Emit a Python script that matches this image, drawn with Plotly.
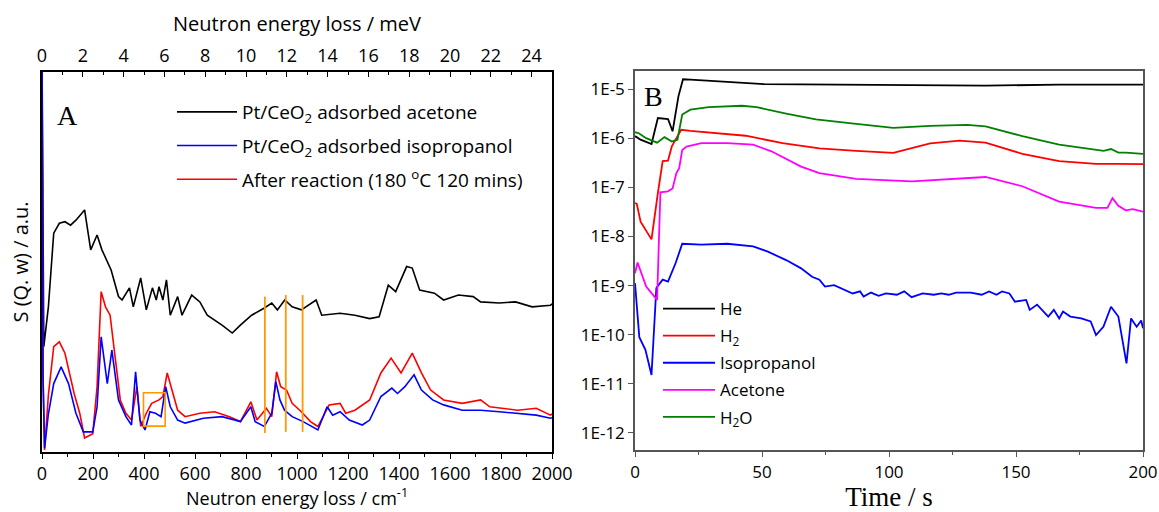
import plotly.graph_objects as go

W, H = 1159, 512

# ---------------- Panel A data (INS spectra, arbitrary units) ----------------
acetone_x = [0, 7, 25, 46, 68, 90, 112, 133, 167, 191, 216, 235, 271, 300, 314, 343, 358, 387, 409, 433,
             448, 459, 474, 488, 503, 532, 549, 587, 619, 648, 706, 746, 778, 822, 872, 901, 923, 952, 981,
             1017, 1075, 1097, 1169, 1227, 1285, 1322, 1358, 1387, 1430, 1452, 1481, 1539, 1575, 1633, 1691,
             1720, 1793, 1857, 1922, 1994, 2000]
acetone_y = [105, 27.7, 38.2, 57.6, 60.2, 60.6, 59.7, 61, 63.7, 53.2, 57.1, 53.2, 47.9, 40.9, 40, 43.2, 38.2,
             45.8, 37.4, 43.2, 40, 43.5, 40, 45.3, 36, 40.9, 36, 41.3, 39.5, 36, 33.4, 31.3, 33.4, 36, 37.9,
             39.2, 37.4, 40, 38.2, 37.4, 40, 36, 36.5, 36, 35.1, 35.6, 43.9, 42.2, 48.8, 48.4, 42.6, 41.8, 40,
             41.3, 40.9, 39.5, 39.2, 39.5, 38.2, 38.6, 39]

isoprop_x = [0, 4, 10, 25, 46, 75, 104, 133, 162, 199, 216, 232, 256, 274, 300, 329, 351, 367, 384, 404, 423,
             445, 467, 485, 503, 532, 561, 633, 706, 778, 819, 836, 872, 901, 917, 933, 951, 981, 1024, 1082,
             1118, 1140, 1169, 1205, 1256, 1285, 1329, 1372, 1394, 1423, 1459, 1488, 1532, 1575, 1648, 1720,
             1793, 1865, 1938, 1994, 2000]
isoprop_y = [110, 20, 1, 10, 18, 22.4, 18, 10.2, 5.3, 5.3, 11.9, 30.3, 18, 26.8, 13.7, 9.3, 7.1, 21.1, 8.4,
             5.8, 10.6, 10.2, 9.3, 17.2, 11.9, 8.4, 7.6, 8.9, 9.3, 8, 11.9, 8, 6.7, 10.2, 18.5, 13.7, 11, 9.3,
             8, 5.8, 11.9, 9.7, 10.6, 8.4, 7.1, 8.4, 14.6, 16.8, 15.4, 17.2, 20.3, 16.3, 13.7, 12.4, 11, 11,
             10.6, 10.2, 9.7, 8.9, 9]

after_x = [0, 4, 10, 25, 46, 68, 90, 126, 148, 167, 199, 216, 232, 249, 267, 285, 307, 329, 351, 372, 387,
           409, 430, 459, 474, 491, 510, 532, 561, 619, 677, 735, 778, 819, 843, 880, 901, 920, 936, 959, 981,
           1017, 1053, 1082, 1126, 1169, 1191, 1227, 1285, 1329, 1369, 1408, 1452, 1488, 1524, 1575, 1648,
           1720, 1756, 1865, 1938, 1994, 2000]
after_y = [105, 20, 0.5, 15, 27.7, 29, 26, 15.4, 10.2, 3.7, 4.8, 17.2, 42.2, 38.2, 36, 26, 13.7, 10.2, 8.4,
           17.2, 6.7, 10.2, 12.8, 13.7, 14.6, 20.8, 16.3, 11, 9.3, 10.2, 10.6, 9.3, 8, 13.2, 8.4, 11.5, 9.3,
           21.1, 17.2, 16.3, 12.8, 10.6, 8, 6.7, 12.4, 12.8, 10.2, 11, 13.7, 20.8, 24.7, 20.8, 26, 20.8, 16.3,
           13.7, 12.8, 13.7, 11.9, 11, 11.5, 9.7, 10]

# orange markers (cm-1, a.u.)
marker_lines_x = [874, 956, 1022]
marker_lines_y0 = [5.0, 5.3, 5.3]
marker_lines_y1 = [40.9, 41.3, 41.3]
marker_box = [398, 483, 6.8, 15.6]  # x0, x1, y0, y1

# ---------------- Panel B data (mass spec, log scale) ----------------
he_t = [0, 2.2, 6.5, 9, 13, 14.8, 17.1, 18.9, 21.8, 36.3, 50.8, 79.9, 109, 123.5, 138, 167, 200]
he_v = [1.10e-6, 9.3e-7, 7.6e-7, 2.57e-6, 2.45e-6, 1.38e-6, 7.1e-6, 1.58e-5, 1.55e-5, 1.38e-5, 1.26e-5,
        1.23e-5, 1.20e-5, 1.17e-5, 1.17e-5, 1.23e-5, 1.23e-5]

h2_t = [0, 0.7, 2.2, 6.5, 9, 10.9, 13, 14.5, 16.3, 18.2, 21.8, 29, 43.6, 58.1, 72.6, 87.1, 101.7, 116.2,
        127.8, 138, 152.5, 167, 181.5, 188.8, 200]
h2_v = [4.8e-8, 4.6e-8, 2.0e-8, 8.7e-9, 7.6e-8, 3.4e-7, 3.5e-7, 6.8e-7, 1.0e-6, 1.48e-6, 1.41e-6, 1.32e-6,
        1.12e-6, 7.9e-7, 6.2e-7, 5.5e-7, 5.0e-7, 7.8e-7, 8.9e-7, 8.1e-7, 4.8e-7, 3.4e-7, 3.0e-7, 3.0e-7,
        2.95e-7]

iso_t = [0, 1.7, 4.1, 6.5, 8.4, 10.9, 13, 16, 18.6, 26.1, 36.3, 46.5, 52.3, 59.5, 65.4, 69.7, 72.6, 74.8,
         78.4, 82.8, 85.7, 88.6, 90, 92.9, 95.9, 98.8, 103.1, 106, 108.9, 113.3, 117.6, 120.6, 123.5, 126.4,
         132.2, 136.5, 139.4, 142.3, 144.5, 147.4, 149.6, 154, 155.4, 158.3, 162.7, 164.9, 167, 168.5,
         171.4, 175.7, 179.4, 181.5, 184.4, 187.4, 190.3, 193.5, 195.3, 197.5, 199.3, 200]
iso_v = [1.12e-9, 8.9e-11, 4.9e-11, 1.51e-11, 8.9e-10, 1.32e-9, 1.20e-9, 2.88e-9, 7.1e-9, 6.8e-9, 7.1e-9,
         6.3e-9, 4.9e-9, 3.3e-9, 2.24e-9, 1.51e-9, 1.32e-9, 9.5e-10, 1.02e-9, 8.1e-10, 6.9e-10, 7.6e-10,
         6.0e-10, 7.2e-10, 6.2e-10, 6.9e-10, 6.5e-10, 7.6e-10, 5.8e-10, 6.9e-10, 6.5e-10, 6.9e-10, 6.5e-10,
         7.2e-10, 7.2e-10, 6.5e-10, 7.6e-10, 6.5e-10, 7.6e-10, 6.9e-10, 4.7e-10, 5.1e-10, 3.2e-10, 4.1e-10,
         2.34e-10, 3.2e-10, 2.14e-10, 2.95e-10, 2.34e-10, 2.14e-10, 1.86e-10, 9.8e-11, 1.45e-10, 3.7e-10,
         2.34e-10, 2.6e-11, 2.14e-10, 1.45e-10, 1.95e-10, 1.35e-10]

acet_t = [0, 1, 4.4, 8.7, 10, 13, 14.8, 16.3, 17.4, 18.6, 20.3, 26.1, 36.3, 46.5, 53.7, 65.4, 72.6, 87.1,
          109, 123.5, 138, 152.5, 167, 181.5, 186, 188, 190.3, 193.2, 196, 200]
acet_v = [1.78e-9, 2.95e-9, 9.5e-10, 5.1e-10, 7.9e-8, 8.3e-8, 9.5e-8, 1.95e-7, 2.45e-7, 5.75e-7, 6.76e-7,
          7.9e-7, 7.9e-7, 7.4e-7, 5.4e-7, 2.63e-7, 1.95e-7, 1.48e-7, 1.32e-7, 1.48e-7, 1.62e-7, 1.05e-7,
          5.1e-8, 3.8e-8, 3.8e-8, 6.0e-8, 4.2e-8, 3.4e-8, 3.6e-8, 3.2e-8]

h2o_t = [0, 1.5, 4.4, 8.7, 11.6, 14.5, 16.7, 18.6, 21.8, 29, 42.1, 47.9, 59.5, 71.2, 87.1, 101.7, 116.2,
         130.7, 138, 152.5, 167, 184.5, 187.4, 190.3, 193.2, 200]
h2o_v = [1.32e-6, 1.26e-6, 1.00e-6, 8.1e-7, 1.05e-6, 8.5e-7, 9.3e-7, 3.02e-6, 3.80e-6, 4.27e-6, 4.57e-6,
         4.27e-6, 3.16e-6, 2.40e-6, 1.95e-6, 1.62e-6, 1.78e-6, 1.86e-6, 1.74e-6, 1.10e-6, 7.4e-7, 5.5e-7,
         6.0e-7, 5.1e-7, 5.1e-7, 4.8e-7]

b_tickvals = [1e-5, 1e-6, 1e-7, 1e-8, 1e-9, 1e-10, 1e-11, 1e-12]
b_ticktext = ["1E-5", "1E-6", "1E-7", "1E-8", "1E-9", "1E-10", "1E-11", "1E-12"]

# ---------------- figure ----------------
FONT = "Open Sans"
SERIF = "Liberation Serif"

def px_x(p):
    return p / W

def px_y(p):
    return 1 - p / H

fig = go.Figure()

# Panel A traces
panel_a = [
    ("Pt/CeO<sub>2</sub> adsorbed acetone", acetone_x, acetone_y, "black", 1),
    ("Pt/CeO<sub>2</sub> adsorbed isopropanol", isoprop_x, isoprop_y, "#0000ff", 2),
    ("After reaction (180 <sup>o</sup>C 120 mins)", after_x, after_y, "#ff0000", 3),
]
# draw order: black, red, blue (blue on top)
for idx in (0, 2, 1):
    name, xs, ys, c, rank = panel_a[idx]
    fig.add_trace(go.Scatter(x=xs, y=ys, mode="lines", line=dict(color=c, width=1.6), name=name,
                             xaxis="x", yaxis="y", legend="legend", legendgroup="a%d" % rank,
                             legendrank=rank))
# top axis (meV) carrier
fig.add_trace(go.Scatter(x=[0, 25], y=[None, None], mode="lines", xaxis="x3", yaxis="y",
                         showlegend=False, hoverinfo="skip"))

# orange markers
for xv, y0, y1 in zip(marker_lines_x, marker_lines_y0, marker_lines_y1):
    fig.add_shape(type="line", xref="x", yref="y", x0=xv, x1=xv, y0=y0, y1=y1,
                  line=dict(color="#ff9900", width=1.8))
fig.add_shape(type="rect", xref="x", yref="y", x0=marker_box[0], x1=marker_box[1],
              y0=marker_box[2], y1=marker_box[3], line=dict(color="#ff9900", width=1.6))

# Panel B traces
series_b = [
    ("He", he_t, he_v, "black"),
    ("H<sub>2</sub>", h2_t, h2_v, "#ff0000"),
    ("Isopropanol", iso_t, iso_v, "#0000ff"),
    ("Acetone", acet_t, acet_v, "#ff00ff"),
    ("H<sub>2</sub>O", h2o_t, h2o_v, "#008000"),
]
for i, (name, t, v, c) in enumerate(series_b):
    fig.add_trace(go.Scatter(x=t, y=v, mode="lines", line=dict(color=c, width=1.8), name=name,
                             xaxis="x2", yaxis="y2", legend="legend2", legendgroup="b%d" % i,
                             legendrank=i + 1))

tick_a = dict(family=FONT, size=18, color="black")
tick_b = dict(family=FONT, size=17, color="black")
title_a = dict(family=FONT, size=20, color="black")

fig.update_layout(
    width=W, height=H, margin=dict(l=0, r=0, t=0, b=0, autoexpand=False),
    paper_bgcolor="white", plot_bgcolor="white",
    font=dict(family=FONT, size=17, color="black"),
    xaxis=dict(domain=[px_x(42), px_x(552)], anchor="y", range=[0, 2000], dtick=200, tick0=0,
               ticks="outside", ticklen=5, tickwidth=1.3, tickcolor="black", automargin=False,
               minor=dict(dtick=100, ticks="outside", ticklen=3, tickcolor="black"),
               showline=True, linecolor="black", linewidth=1.5, showgrid=False, zeroline=False,
               tickfont=tick_a, ticklabelstandoff=0),
    xaxis3=dict(overlaying="x", side="top", anchor="y", range=[0, 25], dtick=2, tick0=0,
                ticks="inside", ticklen=5, tickwidth=1.3, tickcolor="black", automargin=False,
                minor=dict(dtick=1, ticks="inside", ticklen=3, tickcolor="black"),
                showline=True, linecolor="black", linewidth=1.5, showgrid=False, zeroline=False,
                tickfont=tick_a, ticklabelstandoff=1,
                title=dict(text="Neutron energy loss / meV", font=title_a, standoff=6)),
    yaxis=dict(domain=[px_y(452), px_y(72)], anchor="x", range=[0, 100], showticklabels=False,
               ticks="", showline=True, mirror=True, linecolor="black", linewidth=1.5,
               showgrid=False, zeroline=False, automargin=False,
               title=dict(text="S (Q. w) / a.u.", font=title_a, standoff=6)),
    xaxis2=dict(domain=[px_x(635), px_x(1143)], anchor="y2", range=[0, 200], dtick=50, tick0=0,
                ticks="outside", ticklen=5, tickwidth=1.3, tickcolor="#555555", automargin=False,
                minor=dict(dtick=25, ticks="outside", ticklen=3, tickcolor="#555555"),
                showline=True, mirror=True, linecolor="#555555", linewidth=1.5,
                showgrid=False, zeroline=False, tickfont=tick_b, ticklabelstandoff=1,
                title=dict(text="Time / s", font=dict(family=SERIF, size=27, color="black"), standoff=4)),
    yaxis2=dict(domain=[px_y(450), px_y(71)], anchor="x2", type="log", range=[-12.347, -4.633],
                tickvals=b_tickvals, ticktext=b_ticktext, ticks="outside", ticklen=5, tickwidth=1.3,
                tickcolor="#555555", showline=True, mirror=True, linecolor="#555555", linewidth=1.5,
                showgrid=False, zeroline=False, tickfont=tick_b, automargin=False),
    legend=dict(x=px_x(172), y=px_y(93), xanchor="left", yanchor="top", bgcolor="rgba(0,0,0,0)",
                font=dict(family=FONT, size=19, color="black"), traceorder="grouped",
                tracegroupgap=6, itemwidth=60),
    legend2=dict(x=px_x(658), y=px_y(291), xanchor="left", yanchor="top", bgcolor="rgba(0,0,0,0)",
                 font=dict(family=FONT, size=17, color="black"), traceorder="grouped",
                 itemwidth=52, tracegroupgap=2),
    showlegend=True,
)

# bottom axis title of panel A (placed explicitly so it is not clamped by the zero margin)
fig.add_annotation(text="Neutron energy loss / cm<sup>-1</sup>", xref="paper", yref="paper",
                   x=px_x(297), y=px_y(511.5), showarrow=False,
                   font=dict(family=FONT, size=18, color="black"),
                   xanchor="center", yanchor="bottom")
fig.add_annotation(text="A", xref="paper", yref="paper", x=px_x(67), y=px_y(115), showarrow=False,
                   font=dict(family=SERIF, size=28, color="black"), xanchor="center", yanchor="middle")
fig.add_annotation(text="B", xref="paper", yref="paper", x=px_x(653), y=px_y(96), showarrow=False,
                   font=dict(family=SERIF, size=28, color="black"), xanchor="center", yanchor="middle")

fig.write_html("out.html")
